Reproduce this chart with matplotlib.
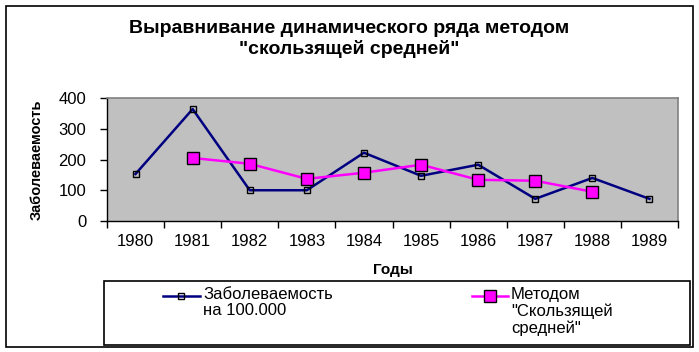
import matplotlib
matplotlib.use("Agg")
import matplotlib.pyplot as plt
from matplotlib.patches import Rectangle
from matplotlib.lines import Line2D

plt.rcParams['font.family'] = ['Liberation Sans', 'DejaVu Sans']

years = ['1980', '1981', '1982', '1983', '1984', '1985', '1986', '1987', '1988', '1989']
incidence = [153, 364, 100, 100, 222, 147, 183, 72, 140, 72]
moving_avg = [None, 205, 186, 137, 157, 183, 134, 131, 95, None]
yticks = [0, 100, 200, 300, 400]

title = 'Выравнивание динамического ряда методом\n"скользящей средней"'
ylabel = 'Заболеваемость'
xlabel = 'Годы'
label1 = 'Заболеваемость\nна 100.000'
label2 = 'Методом\n"Скользящей\nсредней"'

W, H = 699, 352
fig = plt.figure(figsize=(W / 100, H / 100), dpi=100)

def fx(x):
    return x / W

def fy(y):
    return 1 - y / H

# outer chart border
fig.patches.append(Rectangle((fx(6), fy(347)), fx(687), (341) / H, transform=fig.transFigure,
                             fill=False, edgecolor='black', linewidth=1.2))

ax = fig.add_axes([fx(107), fy(221), fx(678 - 107), (221 - 98) / H])
ax.set_facecolor('#C0C0C0')

xs = list(range(len(years)))
ax.plot(xs, incidence, color='#000080', linewidth=1.8, marker='s', markersize=5,
        markerfacecolor='none', markeredgecolor='black', markeredgewidth=1.0, zorder=3)
ma_x = [x for x, v in zip(xs, moving_avg) if v is not None]
ma_y = [v for v in moving_avg if v is not None]
ax.plot(ma_x, ma_y, color='#FF00FF', linewidth=1.8, marker='s', markersize=8.5,
        markerfacecolor='#FF00FF', markeredgecolor='black', markeredgewidth=1.0, zorder=4)

ax.set_xlim(-0.5, len(years) - 0.5)
ax.set_ylim(0, 400)
ax.set_yticks(yticks)
ax.set_yticklabels([str(t) for t in yticks], fontsize=12)
ax.set_xticks([x + 0.5 for x in range(-1, len(years))])
ax.set_xticklabels([])
ax.set_xticks(xs, minor=True)
ax.set_xticklabels(years, minor=True, fontsize=12)
ax.tick_params(axis='x', which='major', length=5, width=1, color='black', direction='out')
ax.tick_params(axis='x', which='minor', length=0, pad=9)
ax.tick_params(axis='y', length=5, width=1, direction='out', pad=10)

for s in ['top', 'right']:
    ax.spines[s].set_color('#808080')
    ax.spines[s].set_linewidth(1.2)
for s in ['left', 'bottom']:
    ax.spines[s].set_color('black')
    ax.spines[s].set_linewidth(1.0)

fig.text(0.5, fy(39), title, ha='center', va='center', multialignment='center',
         fontsize=14, fontweight='bold', linespacing=1.15)
fig.text(fx(37), fy(160), ylabel, rotation=90, ha='center', va='center',
         fontsize=10.5, fontweight='bold')
fig.text(fx(392.5), fy(270), xlabel, ha='center', va='center', fontsize=11, fontweight='bold')

# legend box
fig.patches.append(Rectangle((fx(104), fy(345)), fx(690 - 104), (345 - 281) / H,
                             transform=fig.transFigure, fill=False, edgecolor='black', linewidth=1.2))
fig.lines.append(Line2D([fx(163), fx(200)], [fy(296), fy(296)], transform=fig.transFigure,
                        color='#000080', linewidth=1.8))
fig.lines.append(Line2D([fx(181)], [fy(296)], transform=fig.transFigure, marker='s', markersize=5,
                        markerfacecolor='none', markeredgecolor='black', markeredgewidth=1.0))
fig.text(fx(203), fy(287), label1, ha='left', va='top', fontsize=12, linespacing=1.1)
fig.lines.append(Line2D([fx(472), fx(508)], [fy(296), fy(296)], transform=fig.transFigure,
                        color='#FF00FF', linewidth=1.8))
fig.lines.append(Line2D([fx(490)], [fy(296)], transform=fig.transFigure, marker='s', markersize=8.5,
                        markerfacecolor='#FF00FF', markeredgecolor='black', markeredgewidth=1.0))
fig.text(fx(511), fy(287), label2, ha='left', va='top', fontsize=12, linespacing=1.1)

fig.savefig('out.png', dpi=100)
